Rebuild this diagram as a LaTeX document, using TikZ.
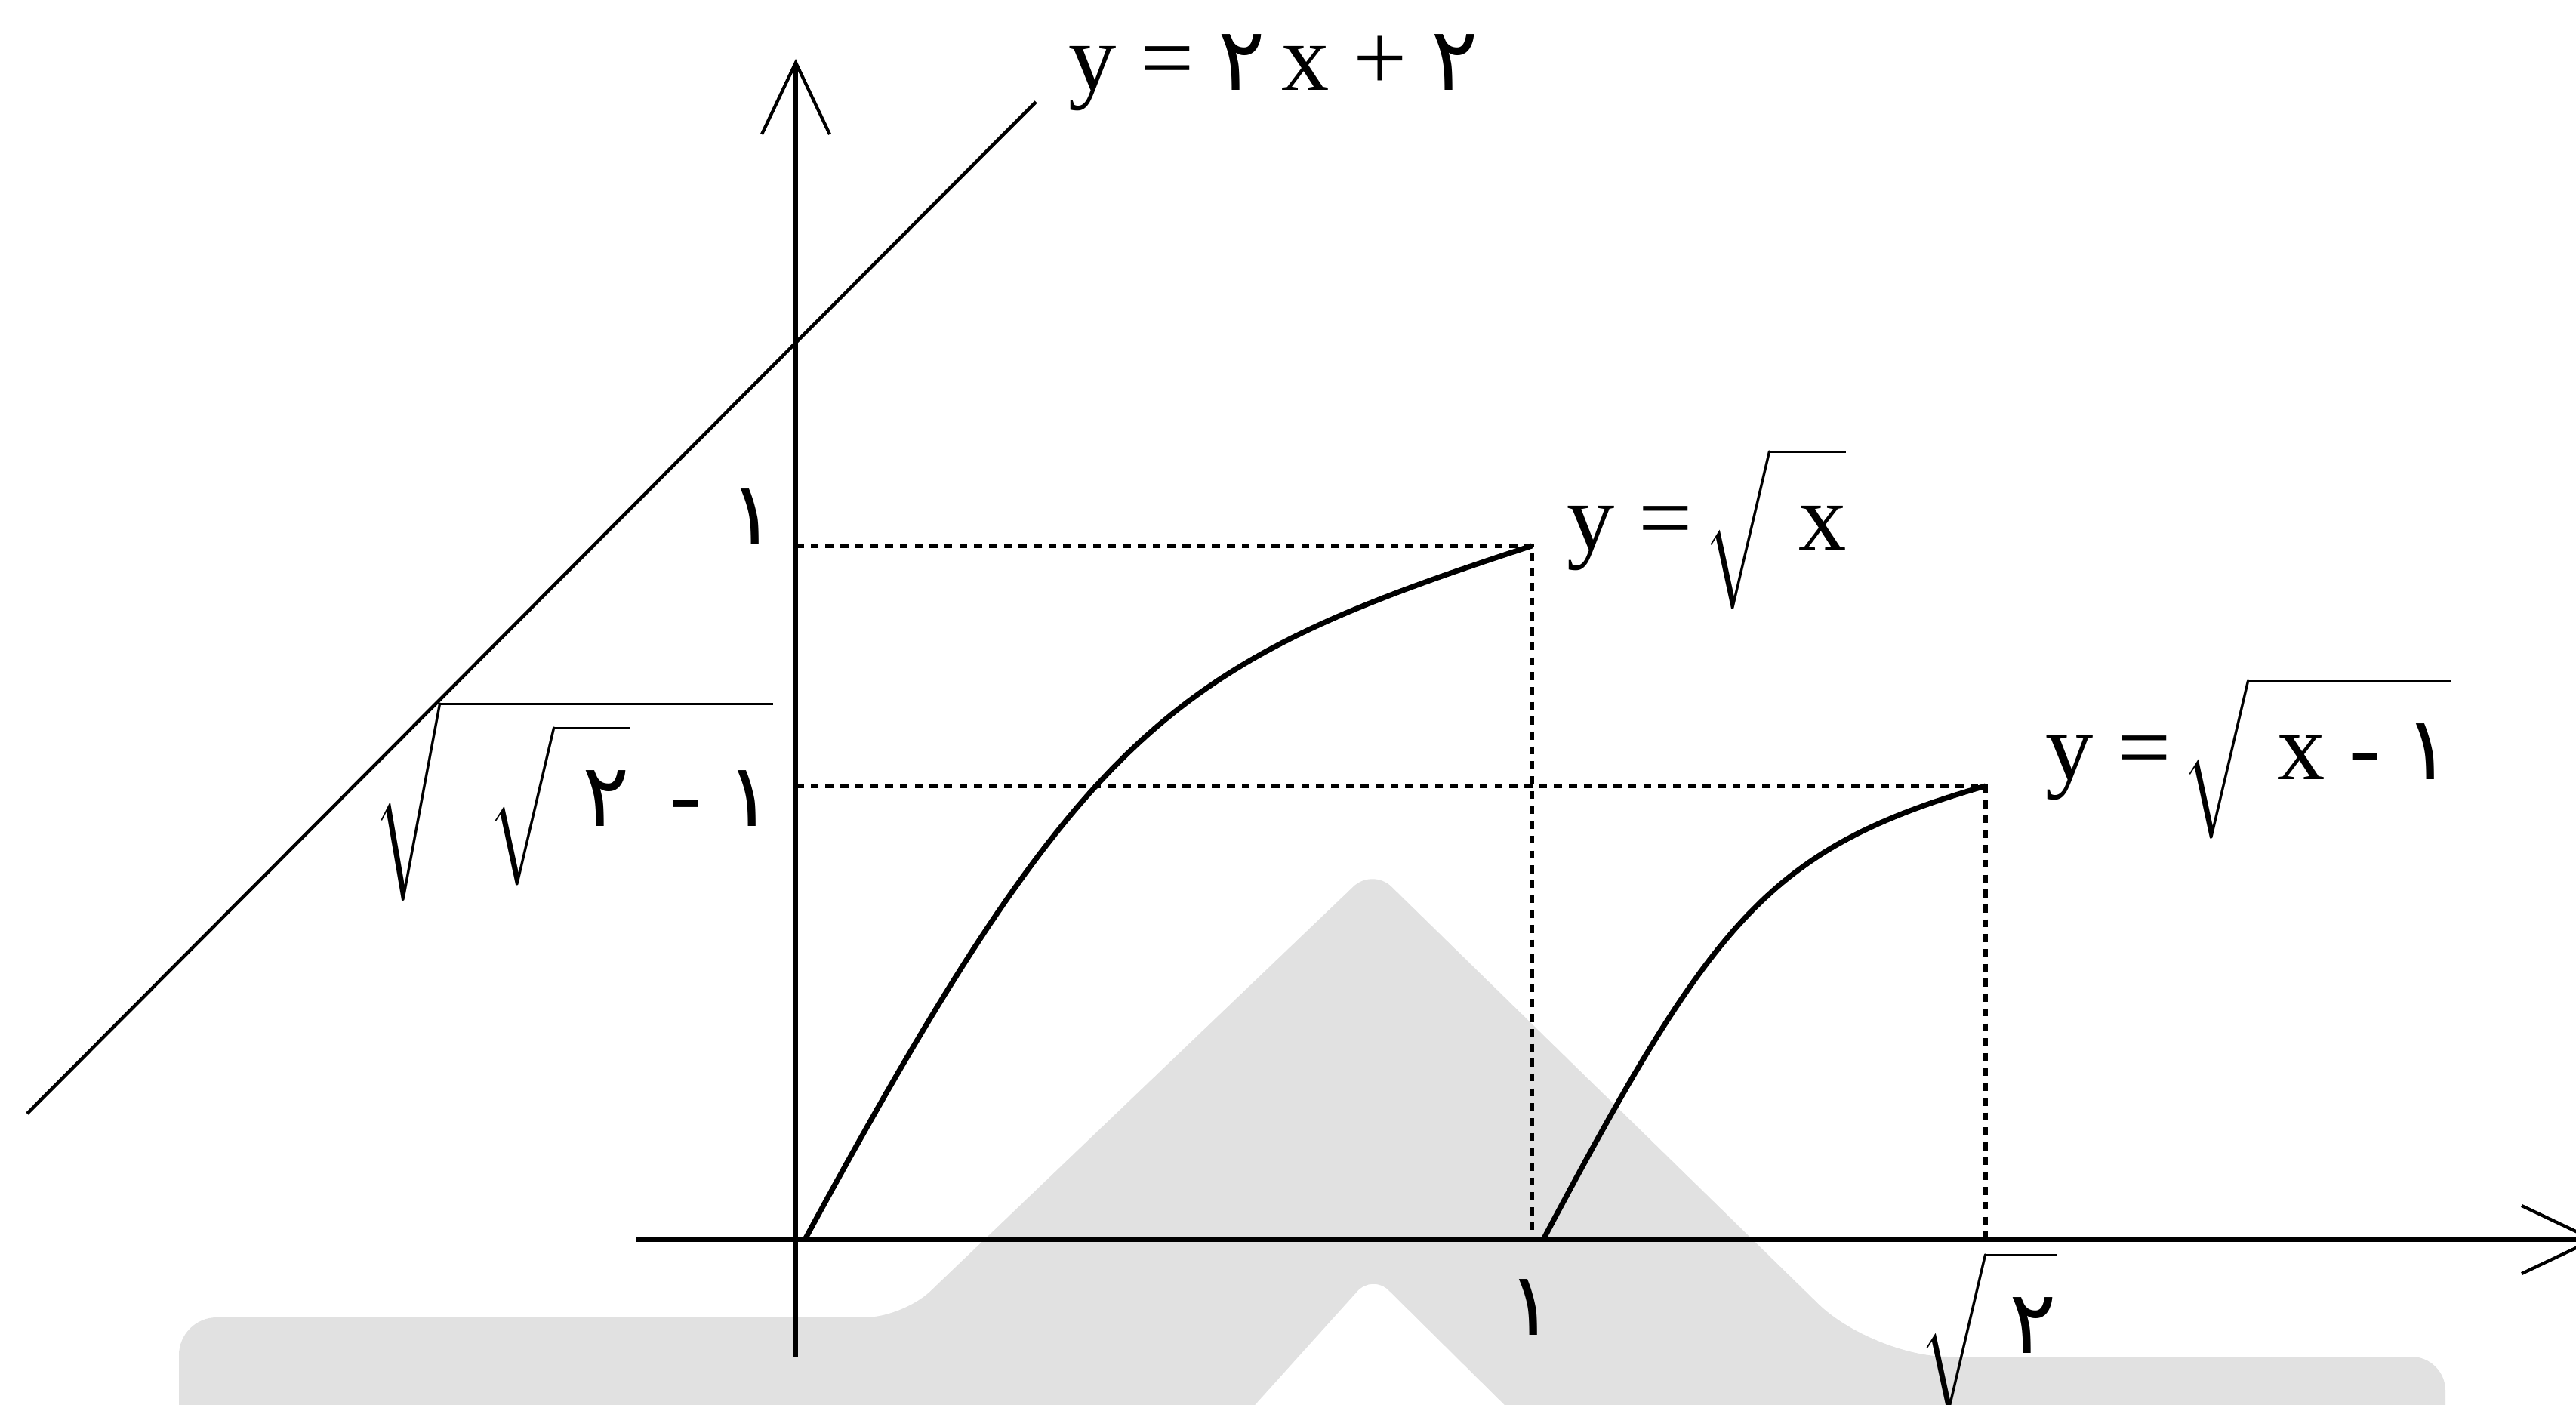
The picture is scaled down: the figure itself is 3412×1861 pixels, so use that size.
\documentclass[tikz,border=0pt]{standalone}
\usepackage{amsmath}
\usepackage{exscale}
\usepackage{fontspec}
\setmainfont{Liberation Serif}
\newfontfamily\fa[Scale=0.92]{DejaVu Sans}
\usepackage{xcolor}
\definecolor{qmark}{HTML}{E1E1E1}
\usepackage{tikz}
\usetikzlibrary{arrows.meta,positioning}

\newcommand{\faone}{{\fa ۱}}
\newcommand{\fatwo}{{\fa ۲}}
\newcommand{\radstrut}{\rule[-0.55em]{0pt}{1.45em}}

\begin{document}
\begin{tikzpicture}[
  x=0.01cm,y=-0.01cm,
  font=\fontsize{36}{40}\selectfont,
  lbl/.style={inner sep=0pt,anchor=base west},
  digit/.style={inner sep=0pt},
  axis/.style={draw=black,line width=1.9pt,-{Straight Barb[length=0.95cm,width=0.9cm,line width=1.2pt]}},
  curve/.style={draw=black,line width=2pt},
  guide/.style={draw=black,line width=1.9pt,dash pattern=on 3pt off 2.6pt},
  tang/.style={draw=black,line width=1.3pt}
]
\useasboundingbox (0,0) rectangle (3412,1861);
% watermark in the background
\fill[qmark] (237,1880) [rounded corners=0.5cm] -- (237,1745) -- (1196,1745)
  [rounded corners=0.35cm] -- (1818,1150) [rounded corners=1cm] -- (2480,1797)
  [rounded corners=0.45cm] -- (3239,1797) [sharp corners] -- (3239,1880) -- (2012,1880)
  [rounded corners=0.3cm] -- (1818,1688) [sharp corners] -- (1645,1880) -- cycle;

\coordinate (xa) at (842,1642);  \coordinate (xb) at (3440,1642);
\coordinate (ya) at (1054,1797); \coordinate (yb) at (1054,78);
\coordinate (la) at (36,1475);   \coordinate (lb) at (1372,135);
\coordinate (p0) at (1066,1642); \coordinate (p1) at (2029,723);
\coordinate (q0) at (2044,1642); \coordinate (q1) at (2630,1041);
\coordinate (y1) at (1054,723);  \coordinate (x1) at (2029,1642);
\coordinate (ys) at (1054,1041); \coordinate (xs) at (2630,1642);

\draw[guide] (y1) -- (p1) -- (x1);
\draw[guide] (ys) -- (q1) -- (xs);
\draw[axis] (xa) -- (xb);
\draw[axis,line width=1.6pt] (ya) -- (yb);
\draw[tang] (la) -- (lb);
\draw[curve] (p0) .. controls (1438,956) and (1554,878) .. (p1);
\draw[curve] (q0) .. controls (2269,1218) and (2342,1124) .. (q1);

\node[lbl] (eqline) at (1415,120) {y = \fatwo\,x + \fatwo};
\node[lbl] (eqroot) at (2075,728) {y =$\,\sqrt{\radstrut\hspace{0.3em}\mbox{x}}$};
\node[lbl] (eqshift) at (2709,1032) {y =$\,\sqrt{\radstrut\hspace{0.3em}\mbox{x - \faone}}$};
\node[lbl] (rootlbl) at (495,1094) {$\sqrt{\hspace{0.5em}\sqrt{\radstrut\hspace{0.3em}\mbox{\fatwo}}\mbox{\ \,- \faone}}$};
\node[lbl] (roottwo) at (2542,1792) {$\sqrt{\radstrut\hspace{0.25em}\mbox{\fatwo}}$};
\node[digit] (oney) at (997,685) {\faone};
\node[digit] (onex) at (2028,1732) {\faone};
\end{tikzpicture}
\end{document}
